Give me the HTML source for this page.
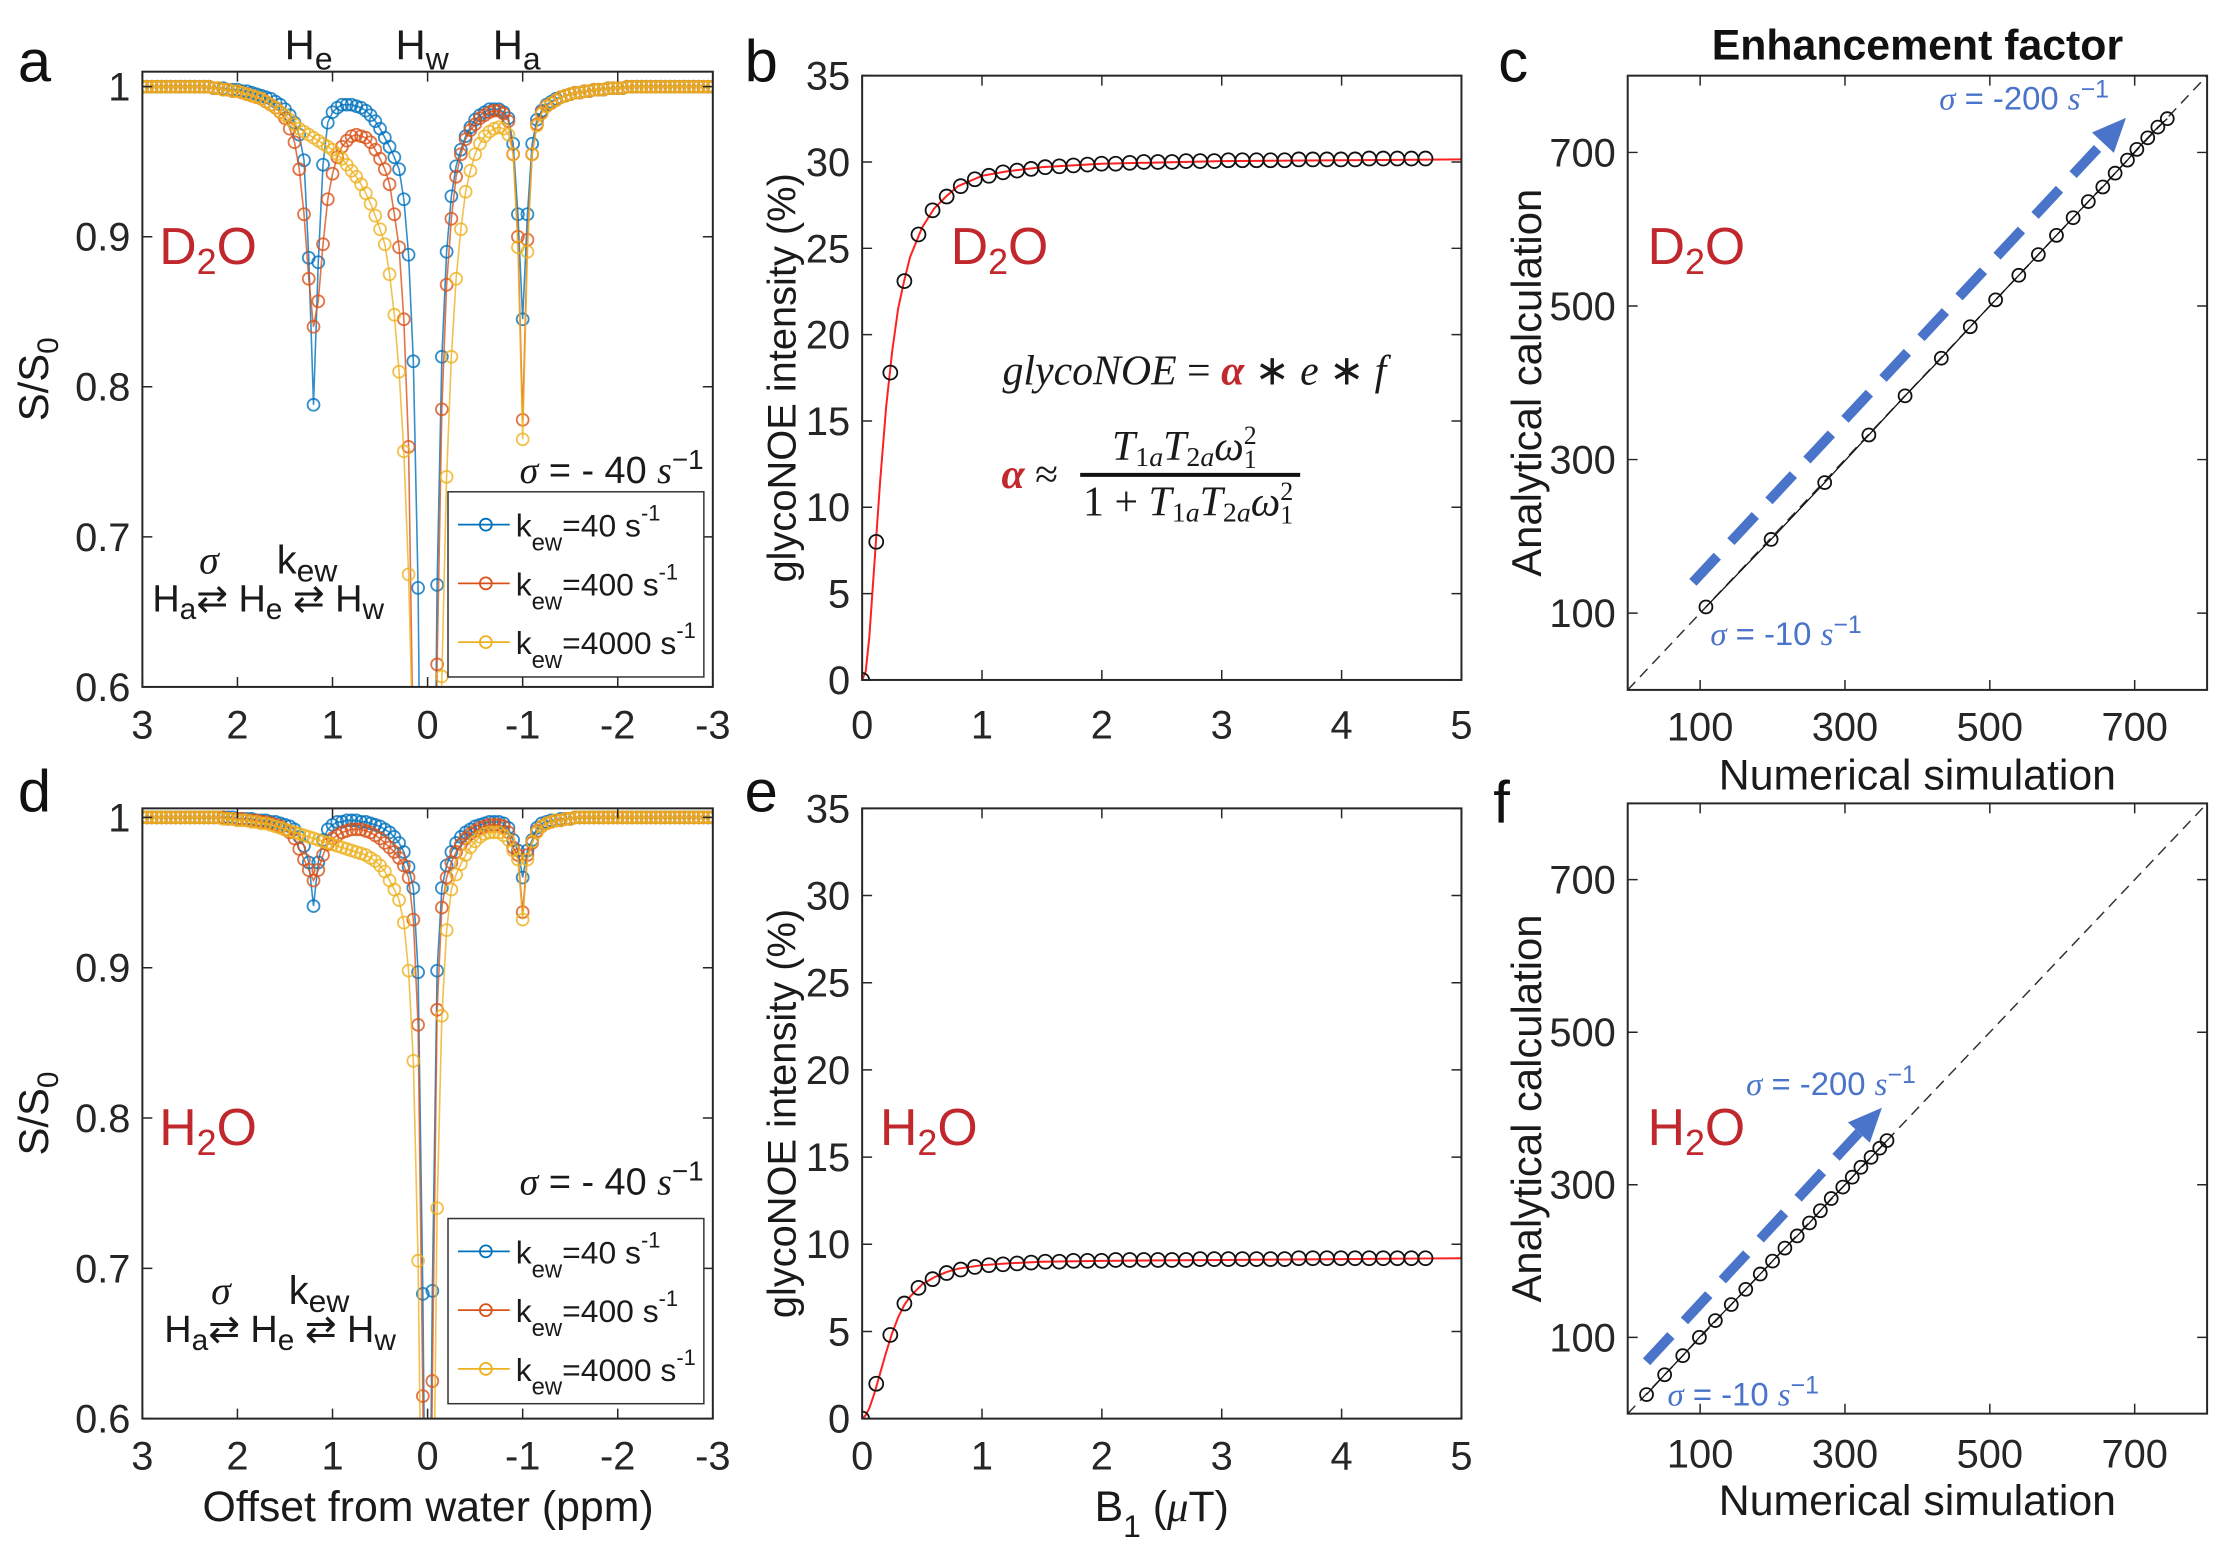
<!DOCTYPE html>
<html><head><meta charset="utf-8"><style>
html,body{margin:0;padding:0;background:#fff;overflow:hidden;width:2234px;height:1558px;}
svg{display:block;font-family:"Liberation Sans",sans-serif;}
</style></head><body>
<svg id="fig" width="2234" height="1558" viewBox="0 0 2244 1565" xmlns="http://www.w3.org/2000/svg"></svg>
<script>
// ---------- Data ----------
// Z-spectra offsets: 3 to -3 ppm (121 points)
const zOffsets = Array.from({length:121},(_,i)=>+(3-0.05*i).toFixed(2));
const d2oK40 = [1,1,1,1,1,1,1,1,1,1,1,1,1,1,1,
.999,.999,.999,.998,.998,.998,.997,.997,.996,.995,.994,.993,.992,.990,.988,
.985,.981,.976,.968,.951,.886,.788,.883,.948,.976,.983,.986,.988,.988,.988,
.987,.986,.984,.981,.977,.972,.966,.960,.953,.945,.925,.888,.817,.666,.35,
.08,
.35,.668,.82,.89,.927,.947,.958,.967,.973,.978,.981,.983,.985,.985,.985,
.983,.979,.962,.915,.845,.915,.962,.978,.984,.988,.990,.992,.993,.994,.995,
.996,.996,.997,.997,.998,.998,.998,.999,.999,.999,.999,1,1,1,1,
1,1,1,1,1,1,1,1,1,1,1,1,1,1,1];
const d2oK400 = [1,1,1,1,1,1,1,1,1,1,1,1,1,1,1,
.999,.999,.998,.998,.997,.997,.996,.995,.994,.993,.992,.990,.988,.986,.983,
.979,.972,.963,.945,.915,.872,.840,.857,.895,.925,.942,.953,.960,.964,.967,
.968,.967,.966,.963,.958,.952,.945,.935,.915,.893,.845,.76,.55,.35,.15,
.05,
.3,.615,.785,.868,.912,.94,.955,.965,.971,.975,.979,.981,.983,.984,.984,
.982,.977,.955,.9,.778,.898,.955,.975,.983,.987,.989,.991,.993,.994,.995,
.996,.996,.997,.997,.998,.998,.998,.999,.999,.999,.999,1,1,1,1,
1,1,1,1,1,1,1,1,1,1,1,1,1,1,1];
const d2oK4000 = [1,1,1,1,1,1,1,1,1,1,1,1,1,1,1,
.999,.999,.998,.998,.997,.997,.996,.995,.994,.993,.992,.990,.988,.986,.983,
.981,.978,.975,.972,.970,.968,.966,.964,.962,.960,.958,.955,.952,.948,.944,
.940,.935,.929,.922,.914,.905,.895,.875,.848,.81,.757,.675,.55,.4,.25,
.15,
.25,.4,.607,.74,.82,.872,.905,.93,.944,.955,.962,.967,.970,.972,.973,
.972,.968,.955,.893,.765,.89,.955,.974,.982,.987,.989,.991,.993,.994,.995,
.996,.996,.997,.997,.998,.998,.998,.999,.999,.999,.999,1,1,1,1,
1,1,1,1,1,1,1,1,1,1,1,1,1,1,1];
const h2oK40 = [1,1,1,1,1,1,1,1,1,1,1,1,1,1,1,
1,1,1,1,1,.999,.999,.999,.999,.998,.998,.998,.997,.997,.996,
.995,.994,.992,.987,.981,.970,.941,.970,.985,.992,.995,.997,.997,.998,.998,
.998,.997,.997,.996,.995,.994,.992,.990,.987,.983,.977,.967,.953,.897,.683,
.35,
.685,.898,.953,.968,.977,.983,.987,.990,.992,.994,.995,.996,.997,.997,.997,
.996,.993,.985,.978,.96,.978,.985,.993,.996,.997,.998,.998,.999,.999,.999,
1,1,1,1,1,1,1,1,1,1,1,1,1,1,1,
1,1,1,1,1,1,1,1,1,1,1,1,1,1,1];
const h2oK400 = [1,1,1,1,1,1,1,1,1,1,1,1,1,1,1,
1,1,1,.999,.999,.999,.999,.998,.998,.998,.997,.997,.996,.995,.994,
.992,.99,.986,.979,.972,.965,.958,.965,.975,.982,.986,.988,.990,.991,.992,
.992,.992,.991,.990,.988,.986,.983,.980,.977,.973,.968,.960,.932,.862,.615,
.3,
.625,.872,.94,.96,.970,.977,.982,.986,.989,.991,.993,.994,.995,.995,.995,
.994,.99,.98,.975,.937,.975,.983,.991,.994,.996,.997,.998,.998,.999,.999,
1,1,1,1,1,1,1,1,1,1,1,1,1,1,1,
1,1,1,1,1,1,1,1,1,1,1,1,1,1,1];
const h2oK4000 = [1,1,1,1,1,1,1,1,1,1,1,1,1,1,1,
1,1,.999,.999,.999,.998,.998,.998,.997,.997,.996,.996,.995,.994,.993,
.992,.991,.990,.989,.988,.987,.986,.985,.984,.983,.982,.981,.980,.979,.978,
.977,.976,.975,.973,.971,.968,.964,.958,.952,.945,.93,.898,.838,.705,.45,
.3,
.45,.74,.868,.925,.952,.962,.969,.975,.980,.984,.987,.989,.990,.990,.990,
.988,.985,.978,.972,.932,.972,.984,.99,.994,.996,.997,.998,.998,.999,.999,
1,1,1,1,1,1,1,1,1,1,1,1,1,1,1,
1,1,1,1,1,1,1,1,1,1,1,1,1,1,1];
const zXTicks = [3,2,1,0,-1,-2,-3];
const zXTickLabels = ['3','2','1','0','-1','-2','-3'];
const zYTicks = [0.6,0.7,0.8,0.9,1];
const zYTickLabels = ['0.6','0.7','0.8','0.9','1'];

// glycoNOE vs B1
const b1Values = Array.from({length:41},(_,i)=>i*4.7/40);
const noeD2O = [0,8.0,17.8,23.1,25.8,27.2,28.0,28.6,29.0,29.2,29.4,29.5,29.6,29.7,29.75,29.8,29.85,29.9,29.9,29.95,30.0,30.0,30.0,30.05,30.05,30.05,30.1,30.1,30.1,30.1,30.1,30.15,30.15,30.15,30.15,30.15,30.2,30.2,30.2,30.2,30.2];
const noeH2O = [0,2.0,4.8,6.6,7.5,8.0,8.35,8.55,8.7,8.8,8.85,8.9,8.95,9.0,9.0,9.05,9.05,9.05,9.1,9.1,9.1,9.1,9.1,9.1,9.15,9.15,9.15,9.15,9.15,9.15,9.15,9.2,9.2,9.2,9.2,9.2,9.2,9.2,9.2,9.2,9.2];
const fitB1 = [0,0.03,0.06,0.1,0.15,0.2,0.25,0.3,0.35,0.4,0.5,0.6,0.7,0.8,1.0,1.2,1.5,2,3,4,5];
const fitD2O = [0,0.5,2.5,6.5,11.5,15.8,19.0,21.5,23.1,24.5,26.2,27.3,28.0,28.6,29.2,29.45,29.7,29.9,30.05,30.1,30.15];
const fitH2O = [0,0.2,0.6,1.4,2.6,3.8,4.9,5.8,6.5,7.0,7.7,8.1,8.4,8.6,8.8,8.9,9.0,9.05,9.1,9.15,9.2];
const noeXTicks = [0,1,2,3,4,5];
const noeYTicks = [0,5,10,15,20,25,30,35];

// Enhancement factor
const efNumD2O = [108,198,272,333,383,433,473,508,540,567,592,615,636,656,673,690,703,718,732,745];
const efAnaD2O = [108,196,270,332,383,432,473,508,540,567,592,615,636,655,673,690,704,719,733,744];
const efNumH2O = [26,51,76,99,121,143,163,183,200,217,234,251,266,281,297,310,322,336,348,358];
const efAnaH2O = [25,51,76,100,122,143,163,183,200,217,233,250,266,282,297,310,323,336,348,358];
const efTicks = [100,300,500,700];
const arrowD2O = [90,140,688,745];
const arrowH2O = [26,68,351,401];

// ---------- Helpers ----------
const NS='http://www.w3.org/2000/svg';
const svg=document.getElementById('fig');
function mk(tag,attrs,parent){const e=document.createElementNS(NS,tag);for(const k in attrs)e.setAttribute(k,attrs[k]);(parent||svg).appendChild(e);return e;}
function makeAxes(o){
  const sx=v=>o.x0+(v-o.xmin)/(o.xmax-o.xmin)*(o.x1-o.x0);
  const sy=v=>o.y1-(v-o.ymin)/(o.ymax-o.ymin)*(o.y1-o.y0);
  const g=mk('g',{});
  
  
  const cp=mk('clipPath',{id:o.name+'-clip'},g);
  mk('rect',{x:o.x0,y:o.y0,width:o.x1-o.x0,height:o.y1-o.y0},cp);
  const plot=mk('g',{'clip-path':'url(#'+o.name+'-clip)'},g);
  
  
  const frame=mk('rect',{x:o.x0,y:o.y0,width:o.x1-o.x0,height:o.y1-o.y0,fill:'none',stroke:'#262626','stroke-width':2},g);
  
  
  o.xticks.forEach((t,i)=>{
    const x=sx(t);
    const tk=mk('path',{d:`M${x},${o.y1}v-10M${x},${o.y0}v10`,stroke:'#262626','stroke-width':1.5},g);
    
    
    const lb=mk('text',{x:x,y:o.xlabY,'text-anchor':'middle','font-size':40,fill:'#262626'},g);
    
    
    lb.textContent=o.xlabels[i];
  });
  o.yticks.forEach((t,i)=>{
    const y=sy(t);
    const tk=mk('path',{d:`M${o.x0},${y}h10M${o.x1},${y}h-10`,stroke:'#262626','stroke-width':1.5},g);
    
    
    const lb=mk('text',{x:o.x0-12,y:y+14,'text-anchor':'end','font-size':40,fill:'#262626'},g);
    
    
    lb.textContent=o.ylabels[i];
  });
  return {sx,sy,plot,g};
}
function series(ax,xs,ys,color,name,r,lw,opacity){
  const pts=xs.map((x,i)=>ax.sx(x)+','+ax.sy(ys[i])).join(' ');
  const pl=mk('polyline',{points:pts,fill:'none',stroke:color,'stroke-width':lw,'stroke-opacity':opacity},ax.plot);
  
  
  if(r>0){xs.forEach((x,i)=>{
    const c=mk('circle',{cx:ax.sx(x),cy:ax.sy(ys[i]),r:r,fill:'none',stroke:color,'stroke-width':1.8,'stroke-opacity':opacity},ax.plot);
    
    
  });}
}
function text(x,y,html,size,attrs){
  const t=mk('text',Object.assign({x:x,y:y,'font-size':size,fill:'#1a1a1a'},attrs||{}));
  t.innerHTML=html;
  return t;
}
const BLUE='#0072BD',ORANGE='#D95319',YELLOW='#EDB120',RED='#c0282d',ABLUE='#4a74c9';

// ---------- Panels a & d ----------
function zPanel(prefix,y0,y1,ymax,data,tickY,medium,medY,sigY,schemeY,legY,sdx){
  const ax=makeAxes({name:'panel-'+prefix,x0:143,x1:716,y0:y0,y1:y1,xmin:3,xmax:-3,ymin:0.6,ymax:ymax,
    xticks:zXTicks,xlabels:zXTickLabels,yticks:zYTicks,ylabels:zYTickLabels,xlabY:tickY});
  series(ax,zOffsets,data[0],BLUE,prefix+'-kew40',6,1.6,0.8);
  series(ax,zOffsets,data[1],ORANGE,prefix+'-kew400',6,1.6,0.8);
  series(ax,zOffsets,data[2],YELLOW,prefix+'-kew4000',6,1.6,0.8);
  const m=text(160,medY,medium,52,{fill:RED});
  
  
  const s=text(522,sigY,'<tspan font-family="Liberation Serif" font-style="italic">σ</tspan> = - 40 <tspan font-family="Liberation Serif" font-style="italic">s</tspan><tspan dy="-14" font-size="28">−1</tspan>',38);
  
  
  // legend
  const lg=mk('g',{});
  
  
  const box=mk('rect',{x:450,y:legY,width:257,height:186,fill:'#fff',stroke:'#333','stroke-width':1.5},lg);
  
  
  const labs=['40','400','4000'],cols=[BLUE,ORANGE,YELLOW];
  labs.forEach((l,i)=>{
    const yy=legY+33+i*59;
    const ln=mk('path',{d:`M460,${yy}h52`,stroke:cols[i],'stroke-width':1.8},lg);
    
    
    const c=mk('circle',{cx:488,cy:yy,r:6,fill:'none',stroke:cols[i],'stroke-width':1.8},lg);
    
    
    const t=mk('text',{x:518,y:yy+12,'font-size':32,fill:'#1a1a1a'},lg);
    t.innerHTML=`k<tspan dy="14" font-size="24">ew</tspan><tspan dy="-14">=${l} s</tspan><tspan dy="-16" font-size="22">-1</tspan>`;
    
    
  });
  const sg=text(200+sdx,schemeY-38,'<tspan font-family="Liberation Serif" font-style="italic">σ</tspan>',40);
  
  
  const kw=text(278+sdx,schemeY-38,'k<tspan dy="8" font-size="32">ew</tspan>',40);
  
  
  const sc=text(153+sdx,schemeY,'H<tspan dy="8" font-size="30">a</tspan><tspan dy="-8">⇄ H</tspan><tspan dy="8" font-size="30">e</tspan><tspan dy="-8"> ⇄ H</tspan><tspan dy="8" font-size="30">w</tspan>',38);
  
  
  const yl=text(0,0,'S/S<tspan dy="10" font-size="30">0</tspan>',42,{transform:`translate(48,${(y0+y1)/2}) rotate(-90)`,'text-anchor':'middle'});
  
  
  return ax;
}
zPanel('a',72,690,1.01,[d2oK40,d2oK400,d2oK4000],742,'D<tspan dy="10" font-size="36">2</tspan><tspan dy="-10">O</tspan>',265,485,614,494,0);
zPanel('d',812,1425,1.006,[h2oK40,h2oK400,h2oK4000],1476,'H<tspan dy="10" font-size="36">2</tspan><tspan dy="-10">O</tspan>',1150,1200,1348,1224,12);
[['H','e',318],['H','w',432],['H','a',527]].forEach(h=>{
  const t=text(h[2]-8,60,`${h[0]}<tspan dy="10" font-size="32">${h[1]}</tspan>`,42,{'text-anchor':'middle'});
  
  
});
const xla=text(430,1528,'Offset from water (ppm)',43,{'text-anchor':'middle'});



// ---------- Panels b & e ----------
function noePanel(prefix,y0,y1,tickY,vals,fit,medium,mx,my){
  const ax=makeAxes({name:'panel-'+prefix,x0:866,x1:1468,y0:y0,y1:y1,xmin:0,xmax:5,ymin:0,ymax:35,
    xticks:noeXTicks,xlabels:noeXTicks.map(String),yticks:noeYTicks,ylabels:noeYTicks.map(String),xlabY:tickY});
  series(ax,fitB1,fit,'#ff2020',prefix+'-fit',0,2,1);
  b1Values.forEach((x,i)=>{
    const c=mk('circle',{cx:ax.sx(x),cy:ax.sy(vals[i]),r:7,fill:'none',stroke:'#111','stroke-width':1.8},ax.plot);
    
    
  });
  const m=text(mx,my,medium,52,{fill:RED});
  
  
  const yl=text(0,0,'glycoNOE intensity (%)',40,{transform:`translate(799,${(y0+y1)/2}) rotate(-90)`,'text-anchor':'middle'});
  
  
}
noePanel('b',76,683,742,noeD2O,fitD2O,'D<tspan dy="10" font-size="36">2</tspan><tspan dy="-10">O</tspan>',955,265);
noePanel('e',812,1425,1476,noeH2O,fitH2O,'H<tspan dy="10" font-size="36">2</tspan><tspan dy="-10">O</tspan>',884,1150);
const eq1=text(1007,386,'<tspan font-style="italic">glycoNOE</tspan> =  <tspan font-style="italic" font-weight="bold" fill="'+RED+'">α</tspan> ∗  <tspan font-style="italic">e</tspan> ∗ <tspan font-style="italic">f</tspan>',42,{'font-family':'Liberation Serif'});


const eqa=text(1006,490,'<tspan font-style="italic" font-weight="bold" fill="'+RED+'">α</tspan>  ≈',42,{'font-family':'Liberation Serif'});


const bar=mk('rect',{x:1085,y:475,width:221,height:4,fill:'#111'});


const num=text(1117,462,'<tspan font-style="italic">T</tspan><tspan font-size="28" dy="6">1<tspan font-style="italic">a</tspan></tspan><tspan dy="-6" font-style="italic">T</tspan><tspan font-size="28" dy="6">2<tspan font-style="italic">a</tspan></tspan><tspan dy="-6" font-style="italic">ω</tspan><tspan font-size="26" dy="8">1</tspan><tspan font-size="26" dx="-13" dy="-24">2</tspan>',42,{'font-family':'Liberation Serif'});


const den=text(1088,518,'1 + <tspan font-style="italic">T</tspan><tspan font-size="28" dy="6">1<tspan font-style="italic">a</tspan></tspan><tspan dy="-6" font-style="italic">T</tspan><tspan font-size="28" dy="6">2<tspan font-style="italic">a</tspan></tspan><tspan dy="-6" font-style="italic">ω</tspan><tspan font-size="26" dy="8">1</tspan><tspan font-size="26" dx="-13" dy="-24">2</tspan>',42,{'font-family':'Liberation Serif'});


const xle=text(1167,1528,'B<tspan dy="16" font-size="32">1</tspan><tspan dy="-16">  (</tspan><tspan font-family="Liberation Serif" font-style="italic">μ</tspan>T)',43,{'text-anchor':'middle'});



// ---------- Panels c & f ----------
function efPanel(prefix,py0,py1,tickY,nx,ny,arrow,medium,mx,my,s200,s10,xtY){
  const ax=makeAxes({name:'panel-'+prefix,x0:1635,x1:2217,y0:py0,y1:py1,xmin:0,xmax:800,ymin:0,ymax:800,
    xticks:efTicks,xlabels:efTicks.map(String),yticks:efTicks,ylabels:efTicks.map(String),xlabY:tickY});
  const dg=mk('line',{x1:ax.sx(0),y1:ax.sy(0),x2:ax.sx(800),y2:ax.sy(800),stroke:'#333','stroke-width':1.5,'stroke-dasharray':'11 7'},ax.plot);
  
  
  series(ax,nx,ny,'#111',prefix+'-ef',6.5,1.3,1);
  const ax1=ax.sx(arrow[0]),ay1=ax.sy(arrow[1]),ax2=ax.sx(arrow[2]),ay2=ax.sy(arrow[3]);
  const ang=Math.atan2(ay2-ay1,ax2-ax1),L=34,W=15;
  const bx=ax2-L*Math.cos(ang),by=ay2-L*Math.sin(ang);
  const al=mk('line',{x1:ax1,y1:ay1,x2:bx,y2:by,stroke:ABLUE,'stroke-width':10,'stroke-dasharray':'36 20'});
  
  
  const ah=mk('polygon',{points:`${ax2},${ay2} ${bx+W*Math.sin(ang)},${by-W*Math.cos(ang)} ${bx-W*Math.sin(ang)},${by+W*Math.cos(ang)}`,fill:ABLUE});
  
  
  const m=text(mx,my,medium,52,{fill:RED});
  
  
  const a1=text(s200[0],s200[1],'<tspan font-family="Liberation Serif" font-style="italic">σ</tspan> = -200 <tspan font-family="Liberation Serif" font-style="italic">s</tspan><tspan dy="-12" font-size="25">−1</tspan>',33,{fill:ABLUE});
  
  
  const a2=text(s10[0],s10[1],'<tspan font-family="Liberation Serif" font-style="italic">σ</tspan> = -10 <tspan font-family="Liberation Serif" font-style="italic">s</tspan><tspan dy="-12" font-size="25">−1</tspan>',33,{fill:ABLUE});
  
  
  const yl=text(0,0,'Analytical calculation',42,{transform:`translate(1548,${(py0+py1)/2}) rotate(-90)`,'text-anchor':'middle'});
  
  
  const xl=text(1926,xtY,'Numerical simulation',43,{'text-anchor':'middle'});
  
  
}
efPanel('c',76,693,744,efNumD2O,efAnaD2O,arrowD2O,'D<tspan dy="10" font-size="36">2</tspan><tspan dy="-10">O</tspan>',1655,265,[1948,110],[1718,648],793);
efPanel('f',807,1420,1474,efNumH2O,efAnaH2O,arrowH2O,'H<tspan dy="10" font-size="36">2</tspan><tspan dy="-10">O</tspan>',1655,1150,[1754,1100],[1675,1412],1522);
const ttl=text(1926,60,'Enhancement factor',43,{'text-anchor':'middle','font-weight':'bold','fill':'#111'});



// ---------- Panel letters ----------
[['a',18,82],['b',748,82],['c',1505,82],['d',18,815],['e',748,815],['f',1500,826]].forEach(p=>{
  const t=text(p[1],p[2],p[0],60,{'fill':'#111'});
  
  
});
</script>
</body></html>
